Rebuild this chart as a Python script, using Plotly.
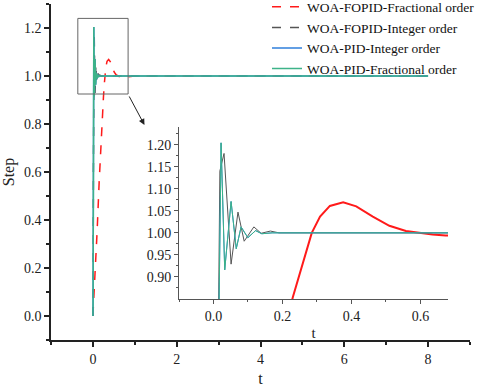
import plotly.graph_objects as go

# ---- data ----
t_fofrac = [0, 0.02, 0.05, 0.1, 0.15, 0.2, 0.23, 0.251, 0.27, 0.285, 0.309, 0.3375, 0.376,
            0.414, 0.462, 0.51, 0.558, 0.592, 0.635, 0.673, 0.75, 0.85, 1.0, 1.5, 3, 8]
y_fofrac = [0, 0.06, 0.17, 0.35, 0.56, 0.76, 0.854, 0.91, 0.962, 1.0, 1.037, 1.061, 1.069,
            1.06, 1.037, 1.016, 1.004, 1.0, 0.996, 0.994, 0.995, 0.998, 1.0, 1.0, 1.0, 1.0]

t_foint = [0, 0.006, 0.012, 0.0185, 0.0306, 0.051, 0.071, 0.089, 0.117, 0.138, 0.165,
           0.19, 0.3, 1.0, 3, 8]
y_foint = [0, 0.1, 0.6, 1.14, 1.18, 0.929, 1.047, 0.981, 1.0135, 0.999, 1.004,
           1.0, 1.0, 1.0, 1.0, 1.0]

t_pidint = [0, 0.004, 0.014, 0.022, 0.0325, 0.051, 0.066, 0.08, 0.0996, 0.122, 0.14,
            0.17, 0.3, 1.0, 3, 8]
y_pidint = [0, 0.05, 0.7, 1.204, 0.916, 1.071, 0.964, 1.0135, 0.989, 1.005, 0.998,
            1.0, 1.0, 1.0, 1.0, 1.0]

t_pidfrac = [0, 0.004, 0.014, 0.022, 0.0325, 0.051, 0.066, 0.08, 0.0996, 0.122, 0.14,
             0.17, 0.3, 1.0, 3, 8]
y_pidfrac = [0, 0.05, 0.7, 1.204, 0.916, 1.071, 0.964, 1.0135, 0.989, 1.005, 0.998,
             1.0, 1.0, 1.0, 1.0, 1.0]

names = ["WOA-FOPID-Fractional order", "WOA-FOPID-Integer order",
         "WOA-PID-Integer order", "WOA-PID-Fractional order"]
colors = ["#FF1A1A", "#555555", "#2F7FDB", "#3DB389"]
dashes = ["dash", "dash", "solid", "solid"]

series = [(t_fofrac, y_fofrac), (t_foint, y_foint), (t_pidint, y_pidint), (t_pidfrac, y_pidfrac)]

FONT = "Liberation Serif"
fig = go.Figure()

# main axes
for (tx, ty), n, c, d in zip(series, names, colors, dashes):
    fig.add_trace(go.Scatter(x=tx, y=ty, mode="lines", name=n,
                             line=dict(color=c, width=1.5, dash=d),
                             xaxis="x", yaxis="y"))
# inset axes
inset_w = [2, 1, 1, 1]
for (tx, ty), n, c, w in zip(series, names, colors, inset_w):
    fig.add_trace(go.Scatter(x=tx, y=ty, mode="lines", name=n, showlegend=False,
                             line=dict(color=c, width=w),
                             xaxis="x2", yaxis="y2"))

axfont = dict(family=FONT, size=14, color="#222")
fig.update_layout(
    width=484, height=387,
    margin=dict(l=51, r=14, t=4, b=47, autoexpand=False),
    paper_bgcolor="white", plot_bgcolor="white",
    showlegend=True,
    legend=dict(x=0.5155, y=1.037, xanchor="left", yanchor="top",
                bgcolor="rgba(0,0,0,0)", font=dict(family=FONT, size=13.5, color="#111"),
                tracegroupgap=0),
    xaxis=dict(domain=[0, 1], range=[-1, 9], showgrid=False, zeroline=False,
               showline=True, linecolor="#222", linewidth=1.5,
               ticks="outside", ticklen=5, tickwidth=1.5, tickcolor="#222",
               tickvals=[0, 2, 4, 6, 8], tickfont=axfont,
               minor=dict(tickvals=[-1, 1, 3, 5, 7, 9], ticks="outside", ticklen=3,
                          tickcolor="#222"),
               title=dict(text="t", font=dict(family=FONT, size=16, color="#222"), standoff=14),
               anchor="y"),
    yaxis=dict(domain=[0, 1], range=[-0.1, 1.3], showgrid=False, zeroline=False,
               showline=True, linecolor="#222", linewidth=1.5,
               ticks="outside", ticklen=5, tickwidth=1.5, tickcolor="#222",
               tickvals=[0, 0.2, 0.4, 0.6, 0.8, 1.0, 1.2],
               ticktext=["0.0", "0.2", "0.4", "0.6", "0.8", "1.0", "1.2"],
               tickfont=axfont,
               minor=dict(tickvals=[-0.1, 0.1, 0.3, 0.5, 0.7, 0.9, 1.1, 1.3], ticks="outside",
                          ticklen=3, tickcolor="#222"),
               title=dict(text="Step", font=dict(family=FONT, size=16, color="#222"), standoff=6),
               anchor="x"),
    xaxis2=dict(domain=[0.3055, 0.9475], range=[-0.1, 0.68], showgrid=False, zeroline=False,
                showline=True, linecolor="#555", linewidth=1,
                ticks="outside", ticklen=4, tickcolor="#555",
                tickvals=[0.0, 0.2, 0.4, 0.6], ticktext=["0.0", "0.2", "0.4", "0.6"],
                tickfont=axfont,
                minor=dict(tickvals=[-0.1, 0.1, 0.3, 0.5], ticks="outside", ticklen=2,
                           tickcolor="#555"),
                title=dict(text="t", font=dict(family=FONT, size=15, color="#222"), standoff=4),
                anchor="y2"),
    yaxis2=dict(domain=[0.122, 0.634], range=[0.85, 1.24], showgrid=False, zeroline=False,
                showline=True, linecolor="#555", linewidth=1,
                ticks="outside", ticklen=4, tickcolor="#555",
                tickvals=[0.9, 0.95, 1.0, 1.05, 1.1, 1.15, 1.2],
                ticktext=["0.90", "0.95", "1.00", "1.05", "1.10", "1.15", "1.20"],
                tickfont=axfont,
                minor=dict(tickvals=[0.875, 0.925, 0.975, 1.025, 1.075, 1.125, 1.175, 1.225],
                           ticks="outside", ticklen=2, tickcolor="#555"),
                anchor="x2"),
)

# zoom box and arrow
fig.add_shape(type="rect", xref="x", yref="y", x0=-0.36, x1=0.84, y0=0.925, y1=1.24,
              line=dict(color="#666", width=1), fillcolor="rgba(0,0,0,0)")
fig.add_annotation(xref="x", yref="y", x=1.23, y=0.796, ax=-16, ay=-30,
                   showarrow=True, arrowhead=2, arrowsize=1.2, arrowwidth=1,
                   arrowcolor="#222", text="")

fig.write_html("out.html", config={"displayModeBar": False},
               post_script="document.body.style.margin='0px';")
